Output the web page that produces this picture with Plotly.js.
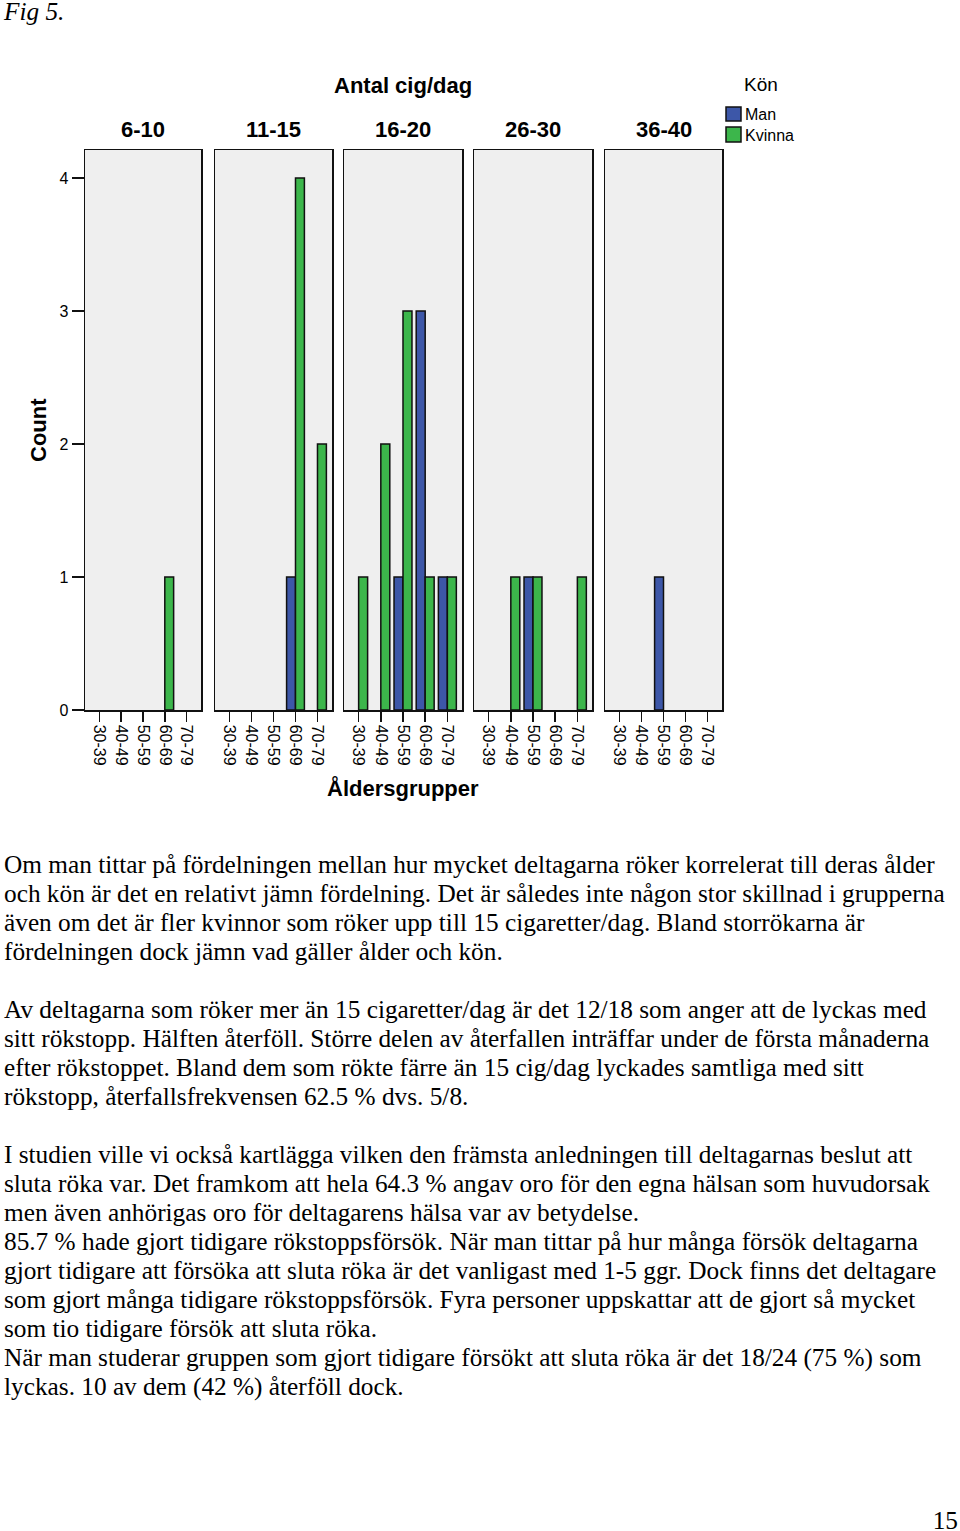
<!DOCTYPE html>
<html><head><meta charset="utf-8">
<script src="https://cdn.plot.ly/plotly-3.0.1.min.js"></script>
<style>
body{margin:0;background:#fff;width:960px;height:1531px;position:relative;overflow:hidden}
#chart{position:absolute;left:0;top:0;width:960px;height:830px;z-index:1}
.serif{font-family:"Liberation Serif","Times New Roman",serif;font-size:25.3px;line-height:29px;color:#000;position:absolute;white-space:pre;z-index:2}
</style></head><body>
<div id="chart"></div>
<div class="serif" style="left:4px;top:-3px;font-style:italic">Fig 5.</div>
<div class="serif" id="bodytext" style="left:4px;top:850px"></div>
<div class="serif" style="right:2px;top:1506px">15</div>
<script>
// ---- data ----
const ageGroups = ['30-39','40-49','50-59','60-69','70-79'];
const cigGroups = ['6-10','11-15','16-20','26-30','36-40'];
const sexLabels = ['Man','Kvinna'];
const man_6_10    = [0,0,0,0,0];
const kvinna_6_10 = [0,0,0,1,0];
const man_11_15    = [0,0,0,1,0];
const kvinna_11_15 = [0,0,0,4,2];
const man_16_20    = [0,0,1,3,1];
const kvinna_16_20 = [1,2,3,1,1];
const man_26_30    = [0,0,1,0,0];
const kvinna_26_30 = [0,1,1,0,1];
const man_36_40    = [0,0,1,0,0];
const kvinna_36_40 = [0,0,0,0,0];
const manCounts = [man_6_10, man_11_15, man_16_20, man_26_30, man_36_40];
const kvinnaCounts = [kvinna_6_10, kvinna_11_15, kvinna_16_20, kvinna_26_30, kvinna_36_40];

const paragraphLines = [
"Om man tittar på fördelningen mellan hur mycket deltagarna röker korrelerat till deras ålder",
"och kön är det en relativt jämn fördelning. Det är således inte någon stor skillnad i grupperna",
"även om det är fler kvinnor som röker upp till 15 cigaretter/dag. Bland storrökarna är",
"fördelningen dock jämn vad gäller ålder och kön.",
"",
"Av deltagarna som röker mer än 15 cigaretter/dag är det 12/18 som anger att de lyckas med",
"sitt rökstopp. Hälften återföll. Större delen av återfallen inträffar under de första månaderna",
"efter rökstoppet. Bland dem som rökte färre än 15 cig/dag lyckades samtliga med sitt",
"rökstopp, återfallsfrekvensen 62.5 % dvs. 5/8.",
"",
"I studien ville vi också kartlägga vilken den främsta anledningen till deltagarnas beslut att",
"sluta röka var. Det framkom att hela 64.3 % angav oro för den egna hälsan som huvudorsak",
"men även anhörigas oro för deltagarens hälsa var av betydelse.",
"85.7 % hade gjort tidigare rökstoppsförsök. När man tittar på hur många försök deltagarna",
"gjort tidigare att försöka att sluta röka är det vanligast med 1-5 ggr. Dock finns det deltagare",
"som gjort många tidigare rökstoppsförsök. Fyra personer uppskattar att de gjort så mycket",
"som tio tidigare försök att sluta röka.",
"När man studerar gruppen som gjort tidigare försökt att sluta röka är det 18/24 (75 %) som",
"lyckas. 10 av dem (42 %) återföll dock."
];
document.getElementById('bodytext').textContent = paragraphLines.join('\n');

// ---- layout helpers ----
const W = 960, H = 830;
const px = x => x / W;
const py = y => (H - y) / H;
const panelPx = [[85,201],[215,332],[344,462],[474,592],[605,722]];
const BLUE = '#3d57a8', GREEN = '#3cb64b';
const SANS = '"Liberation Sans", Arial, sans-serif';
// empty cells are not drawn as bars
const visible = arr => arr.map(v => v === 0 ? null : v);

const traces = [];
const layout = {
  width: W, height: H,
  margin: {l:0, r:0, t:0, b:0},
  paper_bgcolor: 'rgba(0,0,0,0)',
  plot_bgcolor: '#efefef',
  barmode: 'group',
  bargap: 0.19,
  bargroupgap: 0,
  showlegend: false,
  font: {family: SANS, color: '#000'},
  annotations: [],
  shapes: []
};

cigGroups.forEach((g, i) => {
  const n = i === 0 ? '' : String(i + 1);
  const xa = 'x' + n, ya = 'y' + n;
  traces.push({
    type: 'bar', name: sexLabels[0], x: ageGroups, y: visible(manCounts[i]),
    xaxis: xa, yaxis: ya, offsetgroup: 'm', legendgroup: 'm',
    marker: {color: BLUE, line: {color: '#111', width: 1.5}},
    hoverinfo: 'x+y+name'
  });
  traces.push({
    type: 'bar', name: sexLabels[1], x: ageGroups, y: visible(kvinnaCounts[i]),
    xaxis: xa, yaxis: ya, offsetgroup: 'k', legendgroup: 'k',
    marker: {color: GREEN, line: {color: '#111', width: 1.5}},
    hoverinfo: 'x+y+name'
  });
  layout['xaxis' + n] = {
    domain: [px(panelPx[i][0]), px(panelPx[i][1])],
    anchor: ya,
    type: 'category',
    categoryorder: 'array', categoryarray: ageGroups,
    range: [-0.66, 4.66],
    showline: true, linecolor: '#111', linewidth: 1.5, mirror: true,
    showgrid: false, zeroline: false,
    ticks: 'outside', ticklen: 10, tickwidth: 1.5, tickcolor: '#111',
    tickangle: 90,
    tickfont: {family: SANS, size: 16, color: '#000'},
    fixedrange: true
  };
  layout['yaxis' + n] = {
    domain: [py(710), py(150)],
    anchor: xa,
    range: [0, 4.21],
    showline: true, linecolor: '#111', linewidth: 1.5, mirror: true,
    showgrid: false, zeroline: false,
    tickvals: [0,1,2,3,4],
    ticks: i === 0 ? 'outside' : '',
    ticklen: 12, tickwidth: 1.5, tickcolor: '#111',
    showticklabels: i === 0,
    tickfont: {family: SANS, size: 16, color: '#000'},
    fixedrange: true
  };
  layout.annotations.push({
    text: '<b>' + g + '</b>', xref: 'paper', yref: 'paper',
    x: px((panelPx[i][0] + panelPx[i][1]) / 2), y: py(130),
    xanchor: 'center', yanchor: 'middle', showarrow: false,
    font: {family: SANS, size: 22, color: '#000'}
  });
});

layout.annotations.push(
  {text: '<b>Antal cig/dag</b>', xref:'paper', yref:'paper', x: px(403), y: py(85),
   xanchor:'center', yanchor:'middle', showarrow:false, font:{family:SANS, size:22}},
  {text: '<b>Åldersgrupper</b>', xref:'paper', yref:'paper', x: px(403), y: py(788),
   xanchor:'center', yanchor:'middle', showarrow:false, font:{family:SANS, size:22}},
  {text: '<b>Count</b>', xref:'paper', yref:'paper', x: px(38), y: py(430), textangle: -90,
   xanchor:'center', yanchor:'middle', showarrow:false, font:{family:SANS, size:22}},
  {text: 'Kön', xref:'paper', yref:'paper', x: px(742), y: py(84),
   xanchor:'left', yanchor:'middle', showarrow:false, font:{family:SANS, size:19}},
  {text: sexLabels[0], xref:'paper', yref:'paper', x: px(743), y: py(115),
   xanchor:'left', yanchor:'middle', showarrow:false, font:{family:SANS, size:16}},
  {text: sexLabels[1], xref:'paper', yref:'paper', x: px(743), y: py(136),
   xanchor:'left', yanchor:'middle', showarrow:false, font:{family:SANS, size:16}}
);
layout.shapes.push(
  {type:'rect', xref:'paper', yref:'paper', x0: px(726), x1: px(741), y0: py(121), y1: py(107),
   fillcolor: BLUE, line:{color:'#111', width:1.5}},
  {type:'rect', xref:'paper', yref:'paper', x0: px(726), x1: px(741), y0: py(142), y1: py(127),
   fillcolor: GREEN, line:{color:'#111', width:1.5}}
);

Plotly.newPlot('chart', traces, layout, {displayModeBar: false, staticPlot: true});
</script>
</body></html>
